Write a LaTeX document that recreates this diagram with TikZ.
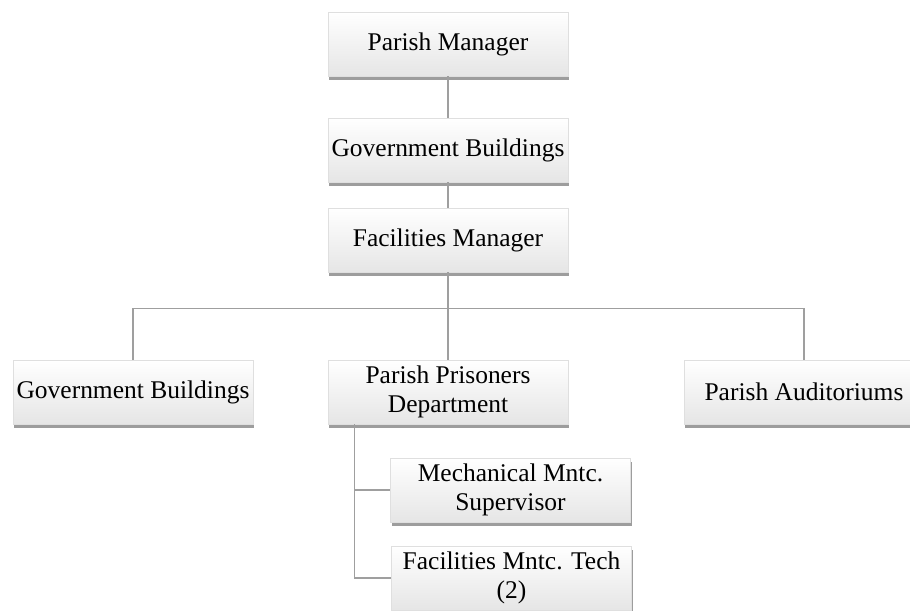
\documentclass[tikz,border=0pt]{standalone}
\usepackage{fontspec}
\setmainfont{Liberation Serif}
\usetikzlibrary{shadows}

\begin{document}
\begin{tikzpicture}[every node/.style={font=\fontsize{14.5}{16.5}\selectfont},
  box/.style={rectangle, minimum width=4.8cm, minimum height=1.28cm, align=center,
    inner xsep=1pt, draw=gray!25, line width=0.3pt, top color=white, bottom color=gray!20,
    drop shadow={shadow xshift=0.8pt, shadow yshift=-2.2pt, fill=gray!60!black, opacity=0.55}},
  link/.style={draw=gray!75, line width=0.7pt}]
  \useasboundingbox (0,0) rectangle (18.2,12.2);
  % top chain
  \node[box] (pm) at (8.96,11.32) {Parish Manager};
  \node[box] (govtop) at (8.96,9.2) {Government Buildings};
  \node[box] (fm) at (8.96,7.4) {Facilities Manager};
  \draw[link] (pm) -- (govtop);
  \draw[link] (govtop) -- (fm);
  % second row
  \node[box] (govleft) at (2.66,4.36) {Government Buildings};
  \node[box] (prison) at (8.96,4.36) {Parish Prisoners\\Department};
  \node[box] (aud) at (16.08,4.36) {Parish Auditoriums};
  \draw[link] (fm.south) -- ++(0,-0.72) coordinate (bus);
  \draw[link] (govleft.north) |- (bus) -| (aud.north);
  \draw[link] (bus) -- (prison.north);
  % under the prisoners department
  \node[box] (mech) at (10.21,2.4) {Mechanical Mntc.\\Supervisor};
  \node[box] (tech) at (10.23,0.64) {Facilities Mntc. Tech\\(2)};
  \coordinate (trunk) at ([xshift=0.54cm]prison.south west);
  \draw[link] (trunk) |- (mech.west);
  \draw[link] (trunk) |- (tech.west);
\end{tikzpicture}
\end{document}
